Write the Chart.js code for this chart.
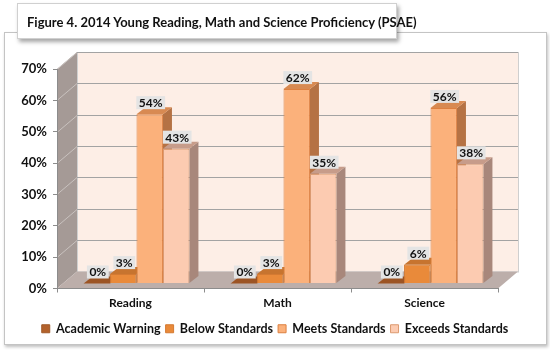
<!DOCTYPE html>
<html>
<head>
<meta charset="utf-8">
<script src="https://cdn.jsdelivr.net/npm/chart.js@4"></script>
<style>
  body { margin: 0; width: 550px; height: 351px; background: #fff; position: relative; overflow: hidden; font-family: Lato, sans-serif; }
  #frame { position: absolute; left: 4px; top: 32px; width: 541px; height: 311px; border: 1px solid #c4c4c4; box-shadow: 1px 2px 3px rgba(0,0,0,0.25); background: #fff; }
  #title { position: absolute; left: 17px; top: 3px; width: 380px; height: 36px; border: 1px solid #d0d0d0; background: #fff; box-shadow: 2px 3px 4px rgba(0,0,0,0.35); z-index: 3;
           font-weight: bold; font-size: 13px; line-height: 36px; padding-left: 9px; box-sizing: border-box; color: #111; white-space: nowrap; }
  #wrap { position: absolute; left: 0; top: 0; width: 550px; height: 351px; z-index: 2; }
</style>
</head>
<body>
<div id="frame"></div>
<div id="title">Figure 4. 2014 Young Reading, Math and Science Proficiency (PSAE)</div>
<div id="wrap"><canvas id="myChart" width="550" height="351"></canvas></div>
<script>
//------donnees
const subjects = ['Reading', 'Math', 'Science'];
const levels = ['Academic Warning', 'Below Standards', 'Meets Standards', 'Exceeds Standards'];
const academicWarning = [0, 0, 0];
const belowStandards = [3, 3, 6];
const meetsStandards = [54, 62, 56];
const exceedsStandards = [43, 35, 38];
const yTicks = [0, 10, 20, 30, 40, 50, 60, 70];

// couleurs : face avant, cote, dessus
const fronts = ['#b3622c', '#e98a3a', '#fbb17b', '#fccbb1'];
const sides = ['#8a4a20', '#b4692d', '#b57244', '#a8877b'];
const tops = ['#9c5424', '#c7742f', '#d88a52', '#c79c8a'];
const borders = ['#a05a28', '#d47a32', '#dd8040', '#dc9a70'];

// profondeur 3D
const DX = 20, DY = -17;     // fond du graphique
const BX = 6, BY = -5;       // position des barres
const SX = 9, SY = -7;       // epaisseur des barres

const wallsPlugin = {
  id: 'walls',
  beforeDraw(chart) {
    const c = chart.ctx, a = chart.chartArea, ys = chart.scales.y;
    const y0 = ys.getPixelForValue(0), yTop = ys.getPixelForValue(70);
    c.save();
    // mur du fond
    c.fillStyle = '#fdeee6';
    c.fillRect(a.left + DX, yTop + DY, a.right - a.left, y0 - yTop);
    c.strokeStyle = '#cfcfcf';
    c.strokeRect(a.left + DX + 0.5, yTop + DY + 0.5, a.right - a.left, y0 - yTop);
    // mur de gauche
    c.fillStyle = '#a59a96';
    c.beginPath();
    c.moveTo(a.left, y0); c.lineTo(a.left, yTop);
    c.lineTo(a.left + DX, yTop + DY); c.lineTo(a.left + DX, y0 + DY);
    c.closePath(); c.fill();
    // sol
    c.fillStyle = '#bcaeaa';
    c.beginPath();
    c.moveTo(a.left, y0); c.lineTo(a.right, y0);
    c.lineTo(a.right + DX, y0 + DY); c.lineTo(a.left + DX, y0 + DY);
    c.closePath(); c.fill();
    // grille
    yTicks.forEach(v => {
      if (v === 0) return;
      const y = Math.round(ys.getPixelForValue(v)) + 0.5;
      c.strokeStyle = '#a3a3a3';
      c.lineWidth = 1.2;
      c.beginPath();
      c.moveTo(a.left + DX, y + DY); c.lineTo(a.right + DX, y + DY);
      c.stroke();
      c.strokeStyle = '#c9c2bf';
      c.lineWidth = 1;
      c.beginPath();
      c.moveTo(a.left, y); c.lineTo(a.left + DX, y + DY);
      c.stroke();
    });
    c.restore();
  },
  beforeDatasetsDraw(chart) {
    const c = chart.ctx;
    c.save();
    c.translate(BX, BY);
    chart.data.datasets.forEach((ds, i) => {
      chart.getDatasetMeta(i).data.forEach(bar => {
        const l = bar.x - bar.width / 2, r = bar.x + bar.width / 2;
        const t = bar.y, b = bar.base;
        // cote
        c.fillStyle = sides[i];
        c.beginPath();
        c.moveTo(r, b); c.lineTo(r, t); c.lineTo(r + SX, t + SY); c.lineTo(r + SX, b + SY);
        c.closePath(); c.fill();
        // dessus
        c.fillStyle = tops[i];
        c.beginPath();
        c.moveTo(l, t); c.lineTo(r, t); c.lineTo(r + SX, t + SY); c.lineTo(l + SX, t + SY);
        c.closePath(); c.fill();
      });
    });
  },
  afterDatasetsDraw(chart) {
    const c = chart.ctx;
    c.font = 'bold 12px Lato';
    c.textAlign = 'center';
    c.textBaseline = 'middle';
    chart.data.datasets.forEach((ds, i) => {
      chart.getDatasetMeta(i).data.forEach((bar, j) => {
        const txt = ds.data[j] + '%';
        const w = c.measureText(txt).width + 5, h = 13;
        const cx = bar.x + 1, bottom = bar.y - 5;
        c.fillStyle = '#e4e4e4';
        c.fillRect(cx - w / 2, bottom - h, w, h);
        c.fillStyle = '#111';
        c.fillText(txt, cx, bottom - h / 2 + 0.5);
      });
    });
    c.restore();
  }
};

Chart.defaults.font.family = 'Lato, sans-serif';
Chart.defaults.font.weight = 'bold';
Chart.defaults.font.size = 12;
Chart.defaults.color = '#111';

const values = [academicWarning, belowStandards, meetsStandards, exceedsStandards];

new Chart(document.getElementById('myChart'), {
  type: 'bar',
  data: {
    labels: subjects,
    datasets: levels.map((lvl, i) => ({
      label: lvl,
      data: values[i],
      backgroundColor: fronts[i],
      borderColor: borders[i],
      borderWidth: 1,
      categoryPercentage: 0.72,
      barPercentage: 1
    }))
  },
  options: {
    responsive: false,
    animation: false,
    devicePixelRatio: 1,
    layout: { padding: { left: 0, right: 0, top: 69, bottom: 6 } },
    scales: {
      x: {
        grid: { drawOnChartArea: false, drawTicks: true, tickLength: 4, color: '#8c8c8c' },
        border: { color: '#8c8c8c' },
        ticks: { padding: 3 },
        afterFit(s) { s.height = 29; }
      },
      y: {
        min: 0, max: 70,
        ticks: { stepSize: 10, padding: 6, font: { size: 13 }, callback: v => v + '%' },
        grid: { drawOnChartArea: false, drawTicks: true, tickLength: 4, color: '#8c8c8c' },
        border: { color: '#8c8c8c' },
        afterFit(s) { s.width = 57; }
      },
      // marge a droite pour la profondeur 3D
      yRight: {
        position: 'right',
        display: true,
        ticks: { display: false },
        grid: { display: false },
        border: { display: false },
        afterFit(s) { s.width = 52; }
      }
    },
    plugins: {
      legend: {
        position: 'bottom',
        labels: { boxWidth: 8, boxHeight: 8, padding: 5, font: { size: 12.5, weight: 'bold' } }
      },
      tooltip: { enabled: false }
    }
  },
  plugins: [wallsPlugin]
});
</script>
</body>
</html>
